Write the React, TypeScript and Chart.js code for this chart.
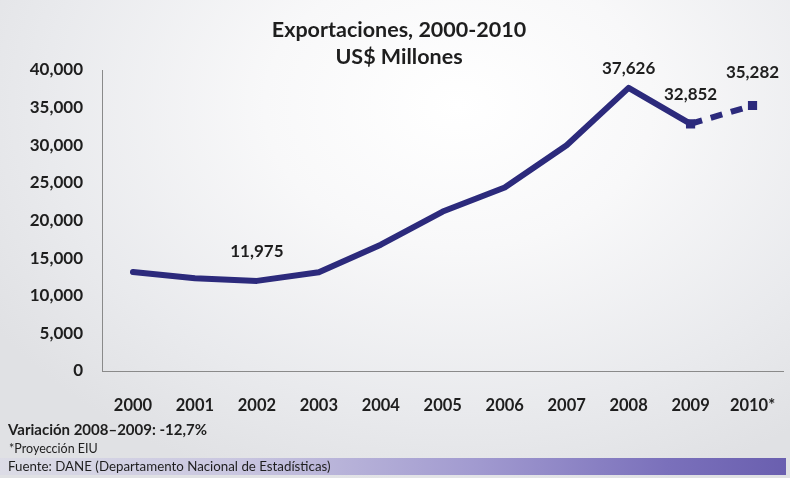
import React, { useEffect, useRef } from "react";
import { Chart, registerables } from "chart.js";

Chart.register(...registerables);

const categories = ["2000", "2001", "2002", "2003", "2004", "2005", "2006", "2007", "2008", "2009", "2010*"];
const exportsValues = [13158, 12330, 11975, 13129, 16788, 21190, 24391, 29991, 37626, 32852, 35282];
const labeledIndices = [2, 8, 9, 10];
const labelTexts = ["11,975", "37,626", "32,852", "35,282"];
const yTicks = [0, 5000, 10000, 15000, 20000, 25000, 30000, 35000, 40000];
const titleLines = ["Exportaciones, 2000-2010", "US$ Millones"];
const noteVariation = "Variación 2008–2009: -12,7%";
const noteProjection = "*Proyección EIU";
const noteSource = "Fuente: DANE (Departamento Nacional de Estadísticas)";

const FONT = "Lato, 'Open Sans', sans-serif";
const LINE_COLOR = "#2c2a7c";

const labelOffsets: Record<number, number> = { 2: 29, 8: 19, 9: 29, 10: 33 };

const valueLabelPlugin = {
  id: "valueLabels",
  afterDatasetsDraw(chart: any) {
    const meta = chart.getDatasetMeta(0);
    const ctx = chart.ctx;
    ctx.save();
    ctx.font = `bold 17px ${FONT}`;
    ctx.fillStyle = "#1e1e1e";
    ctx.textAlign = "center";
    ctx.textBaseline = "middle";
    labeledIndices.forEach((idx, i) => {
      const pt = meta.data[idx];
      ctx.fillText(labelTexts[i], pt.x, pt.y - (labelOffsets[idx] ?? 28));
    });
    ctx.restore();
  },
};

export default function App() {
  const canvasRef = useRef<HTMLCanvasElement | null>(null);

  useEffect(() => {
    document.body.style.margin = "0";
    const canvas = canvasRef.current!;
    const chart = new Chart(canvas, {
      type: "line",
      data: {
        labels: categories,
        datasets: [
          {
            data: exportsValues,
            borderColor: LINE_COLOR,
            backgroundColor: LINE_COLOR,
            borderWidth: 6,
            borderJoinStyle: "round",
            borderCapStyle: "round",
            tension: 0,
            pointStyle: "rect",
            pointRadius: exportsValues.map((_, i) => (i >= 9 ? 6.5 : 0)),
            pointBorderWidth: 0,
            pointBackgroundColor: LINE_COLOR,
            segment: {
              borderDash: (c: any) => (c.p0DataIndex === 9 ? [12, 9] : undefined),
              borderCapStyle: (c: any) => (c.p0DataIndex === 9 ? "butt" : "round"),
            },
          } as any,
        ],
      },
      options: {
        animation: false,
        responsive: false,
        maintainAspectRatio: false,
        layout: { padding: { left: 0, right: 6, top: 70, bottom: 0 } },
        plugins: {
          legend: { display: false },
          tooltip: { enabled: false },
          title: { display: false },
        },
        scales: {
          x: {
            offset: true,
            grid: { display: false, drawTicks: false },
            border: { display: true, color: "#8a8a8a", width: 1 },
            ticks: {
              padding: 25,
              color: "#1e1e1e",
              font: { family: FONT, size: 16.5, weight: "bold" },
              maxRotation: 0,
              autoSkip: false,
            },
            afterFit(scale: any) {
              scale.height = 107;
              scale.paddingLeft = 0;
              scale.paddingRight = 0;
            },
          },
          y: {
            min: 0,
            max: 40000,
            grid: { display: false, drawTicks: false },
            border: { display: true, color: "#8a8a8a", width: 1 },
            afterBuildTicks(scale: any) {
              scale.ticks = yTicks.map((v) => ({ value: v }));
            },
            ticks: {
              padding: 19,
              color: "#1e1e1e",
              font: { family: FONT, size: 17, weight: "bold" },
              callback: (v: any) => Number(v).toLocaleString("en-US"),
            },
            afterFit(scale: any) {
              scale.width = 102;
              scale.paddingTop = 0;
              scale.paddingBottom = 0;
            },
          },
        },
      },
      plugins: [valueLabelPlugin],
    });
    return () => chart.destroy();
  }, []);

  return (
    <div
      style={{
        position: "fixed",
        left: 0,
        top: 0,
        width: 790,
        height: 478,
        overflow: "hidden",
        background:
          "radial-gradient(ellipse 70% 85% at 58% 22%, #ffffff 0%, #f8f8f9 35%, #e9eaed 75%, #e0e1e4 100%)",
        fontFamily: FONT,
        color: "#1e1e1e",
      }}
    >
      <div
        style={{
          position: "absolute",
          left: 0,
          top: 458,
          width: 786,
          height: 17,
          background: "linear-gradient(90deg, #dcdce6 0%, #c9c6e0 30%, #a29bd0 60%, #7a70bb 85%, #6a5faf 100%)",
        }}
      />
      <canvas ref={canvasRef} width={790} height={478} style={{ position: "absolute", left: 0, top: 0 }} />
      <div
        style={{
          position: "absolute",
          left: 0,
          top: 16,
          width: 790,
          textAlign: "center",
          fontWeight: "bold",
          fontSize: 21.5,
          lineHeight: "27px",
        }}
      >
        <div style={{ paddingLeft: 8 }}>{titleLines[0]}</div>
        <div style={{ paddingLeft: 8 }}>{titleLines[1]}</div>
      </div>
      <div style={{ position: "absolute", left: 8, top: 420, fontWeight: "bold", fontSize: 15, lineHeight: "19px" }}>
        {noteVariation}
      </div>
      <div style={{ position: "absolute", left: 9, top: 441, fontSize: 12.5, lineHeight: "16px" }}>{noteProjection}</div>
      <div style={{ position: "absolute", left: 8, top: 458, fontSize: 13.3, lineHeight: "17px" }}>{noteSource}</div>
    </div>
  );
}
